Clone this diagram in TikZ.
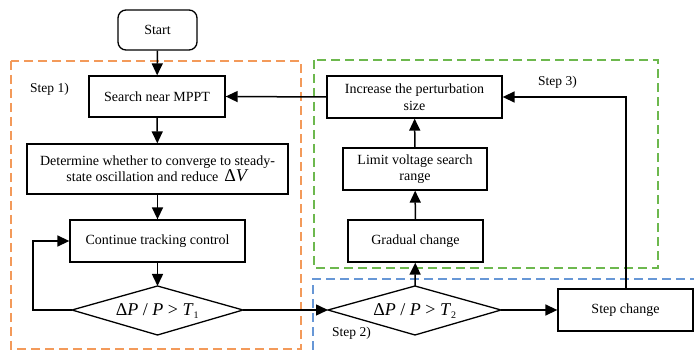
\documentclass[tikz,border=0pt]{standalone}
\usepackage{fontspec}
\setmainfont{Liberation Serif}
\usetikzlibrary{arrows.meta}
\definecolor{orng}{HTML}{F39A5A}
\definecolor{grn}{HTML}{6DB84E}
\definecolor{blu}{HTML}{6797D6}
\begin{document}
\begin{tikzpicture}[x=1pt,y=-1pt,
  box/.style={draw,line width=1.3pt,inner sep=0pt,align=center,font=\fontsize{14}{16.5}\selectfont},
  conn/.style={line width=1.5pt,-{Triangle[length=12pt,width=11pt]}},
  region/.style={line width=1.3pt,dash pattern=on 9pt off 5pt},
  lbl/.style={font=\fontsize{13.5}{15}\selectfont,inner sep=0pt},
  mth/.style={font=\fontsize{18}{19}\selectfont}]
\useasboundingbox (0,0) rectangle (694,352);
% regions
\draw[region,orng] (11,61) rectangle (301,349);
\draw[region,grn] (314,60) rectangle (658,268);
\draw[region,blu] (313,350) -- (313,279) -- (694,279);
% nodes
\node[box,rounded corners=8pt,minimum width=79pt,minimum height=40pt] (start) at (157.5,30) {Start};
\node[box,minimum width=136pt,minimum height=41pt] (search) at (157,96.5) {Search near MPPT};
\node[box,minimum width=261pt,minimum height=50pt] (det) at (157.5,169) {Determine whether to converge to steady-\\state oscillation and reduce \,{\fontsize{18}{17}\selectfont Δ\textit{V}}};
\node[box,minimum width=175pt,minimum height=42pt] (cont) at (157.5,241) {Continue tracking control};
\coordinate (d1l) at (72,310);
\coordinate (d1r) at (243,310);
\coordinate (d1t) at (157.5,286);
\coordinate (d1b) at (157.5,335);
\draw[line width=1.3pt] (d1l) -- (d1t) -- (d1r) -- (d1b) -- cycle;
\node[mth] (d1) at (157.5,311) {Δ\textit{P} / \textit{P} > \textit{T}\textsubscript{\fontsize{10}{10}\selectfont 1}};
\coordinate (d2l) at (328,310);
\coordinate (d2r) at (501,310);
\coordinate (d2t) at (415,286);
\coordinate (d2b) at (415,335);
\draw[line width=1.3pt] (d2l) -- (d2t) -- (d2r) -- (d2b) -- cycle;
\node[mth] (d2) at (415,311) {Δ\textit{P} / \textit{P} > \textit{T}\textsubscript{\fontsize{10}{10}\selectfont 2}};
\node[box,minimum width=135pt,minimum height=42pt] (step) at (625.5,310) {Step change};
\node[box,minimum width=135pt,minimum height=42pt] (grad) at (415.5,241) {Gradual change};
\node[box,minimum width=144pt,minimum height=42pt] (lim) at (415,169) {Limit voltage search\\range};
\node[box,minimum width=175pt,minimum height=42pt] (inc) at (414.5,97) {Increase the perturbation\\size};
% labels
\node[lbl,anchor=west] (s1) at (30,89) {Step 1)};
\node[lbl,anchor=west] (s3) at (538,82) {Step 3)};
\node[lbl,anchor=west] (s2) at (332,333) {Step 2)};
% connectors
\draw[conn] (start) -- (search);
\draw[conn] (search) -- (det);
\draw[conn] (det) -- (cont);
\draw[conn] (cont) -- (d1t);
\draw[conn] (d1l) -- (33,310) -- (33,241) -- (cont.west);
\draw[conn] (d1r) -- (d2l);
\draw[conn] (d2r) -- (step);
\draw[conn] (d2t) -- (grad);
\draw[conn] (grad) -- (lim);
\draw[conn] (lim) -- (inc);
\draw[conn] (step.north -| 626,0) -- (626,97) -- (inc.east);
\draw[conn] (inc.west) -- (search.east);
\end{tikzpicture}
\end{document}
